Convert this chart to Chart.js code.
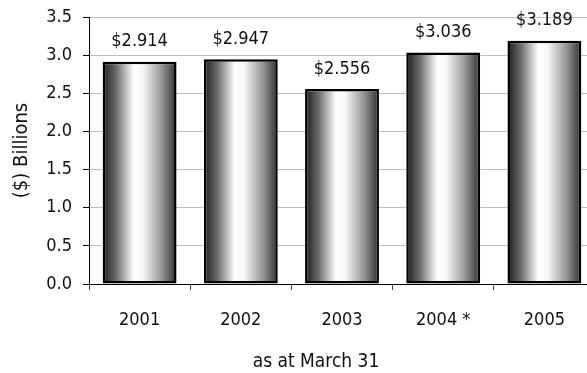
<!DOCTYPE html>
<html>
<head>
<meta charset="utf-8">
<script src="https://cdn.jsdelivr.net/npm/chart.js@4/dist/chart.umd.min.js"></script>
<style>
  html, body { margin:0; padding:0; background:#fff; overflow:hidden; }
  #wrap { position:relative; width:600px; height:373px; }
</style>
</head>
<body>
<div id="wrap"><canvas id="c"></canvas></div>
<script>
// chart data
const years = ["2001", "2002", "2003", "2004 *", "2005"];
const billions = [2.914, 2.947, 2.556, 3.036, 3.189];
const valueLabels = ["$2.914", "$2.947", "$2.556", "$3.036", "$3.189"];
const yTickValues = [0, 0.5, 1, 1.5, 2, 2.5, 3, 3.5];
const yTickLabels = ["0.0", "0.5", "1.0", "1.5", "2.0", "2.5", "3.0", "3.5"];
const xTitle = "as at March 31";

const FONT = "'Liberation Sans Narrow', 'Arial Narrow', 'DejaVu Sans Condensed', sans-serif";
const BAR_PCT = 0.73;

// cylinder-like shading across each bar
function shade(c) {
    const chart = c.chart, xs = chart.scales.x;
    if (!xs || !chart.chartArea || c.dataIndex == null) return "#999";
    const cx = xs.getPixelForValue(c.dataIndex);
    const w = xs.width / years.length * BAR_PCT;
    const g = chart.ctx.createLinearGradient(cx - w / 2, 0, cx + w / 2, 0);
    g.addColorStop(0, "#1c1c1c");
    g.addColorStop(0.18, "#6a6a6a");
    g.addColorStop(0.42, "#ffffff");
    g.addColorStop(0.55, "#f6f6f6");
    g.addColorStop(0.8, "#959595");
    g.addColorStop(1, "#303030");
    return g;
}

// value labels above bars + x title (sits left of the plot centre in the original)
const extraText = {
    id: "extraText",
    afterDatasetsDraw(chart) {
        const ctx = chart.ctx;
        const meta = chart.getDatasetMeta(0);
        ctx.save();
        ctx.font = "18px " + FONT;
        ctx.fillStyle = "#111";
        ctx.textAlign = "center";
        ctx.textBaseline = "middle";
        meta.data.forEach((bar, i) => {
            ctx.fillText(valueLabels[i], bar.x, bar.y - 20);
        });
        ctx.font = "19px " + FONT;
        ctx.textBaseline = "alphabetic";
        ctx.fillText(xTitle, 316, 367);
        ctx.restore();
    }
};

new Chart(document.getElementById("c"), {
    type: "bar",
    data: {
        labels: years,
        datasets: [{
            data: billions,
            backgroundColor: shade,
            borderColor: "#000",
            borderWidth: 2.5,
            borderSkipped: false,
            categoryPercentage: 1,
            barPercentage: BAR_PCT,
        }],
    },
    options: {
        responsive: true, maintainAspectRatio: false, animation: false,
        layout: { padding: { top: 17, right: 5, left: 0, bottom: 0 } },
        plugins: { legend: { display: false }, tooltip: { enabled: false } },
        scales: {
            x: {
                afterFit: s => { s.height = 89; },
                grid: { offset: true, drawOnChartArea: false, drawTicks: true, tickLength: 6, tickColor: "#444" },
                border: { display: true, color: "#000", width: 1 },
                ticks: { color: "#111", padding: 20, font: { family: FONT, size: 18 } },
            },
            y: {
                min: 0, max: 3.5,
                afterFit: s => { s.width = 89; s.paddingTop = 0; s.paddingBottom = 0; },
                afterBuildTicks: s => { s.ticks = yTickValues.map(v => ({ value: v })); },
                grid: { color: "#c0c0c0", tickColor: "#000", tickLength: 6 },
                border: { display: true, color: "#000", width: 1 },
                ticks: {
                    color: "#111", padding: 11, font: { family: FONT, size: 18 },
                    callback: (v) => yTickLabels[yTickValues.indexOf(v)],
                },
                title: { display: true, text: "($) Billions", color: "#111", padding: { top: 10, bottom: 0 }, font: { family: FONT, size: 20 } },
            },
        },
    },
    plugins: [extraText],
});
</script>
</body>
</html>
